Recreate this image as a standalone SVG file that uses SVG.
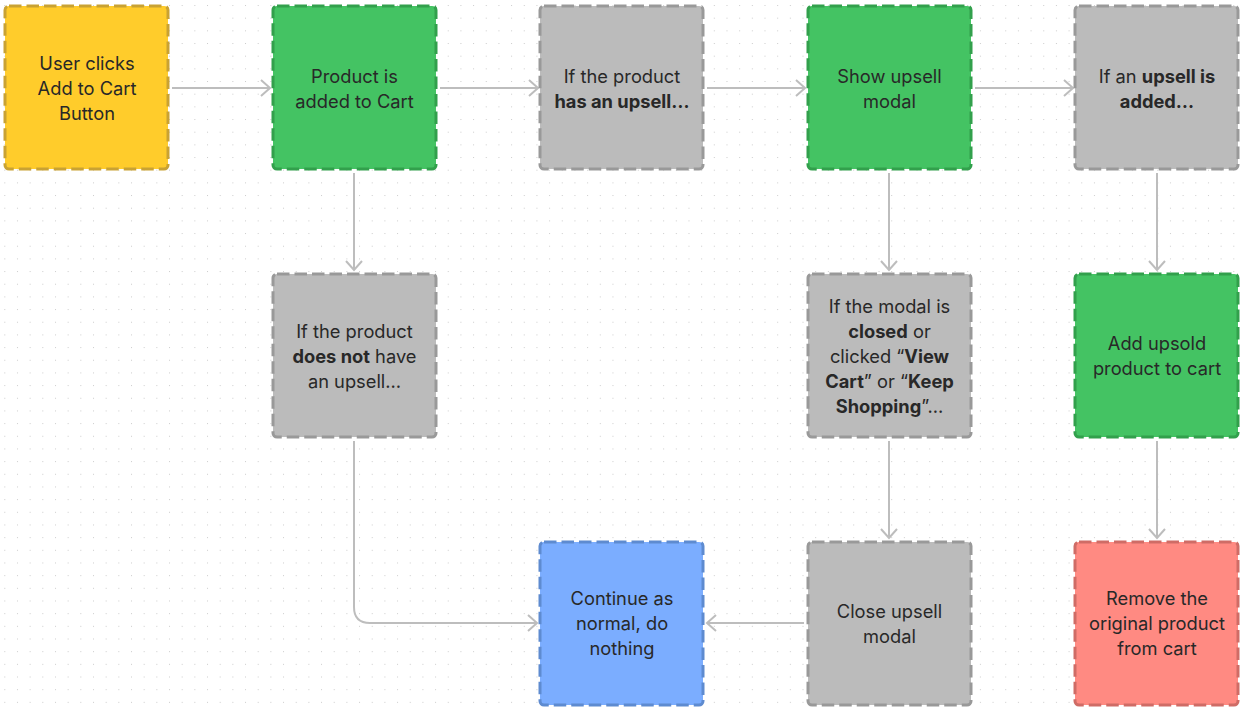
<svg xmlns="http://www.w3.org/2000/svg" width="1244" height="711" viewBox="0 0 1244 711">
<defs>
<pattern id="dots" x="4.3" y="5" width="12.67" height="12.67" patternUnits="userSpaceOnUse">
<rect x="0" y="0" width="1" height="1" fill="#cccccc"/>
</pattern>
<marker id="arr" viewBox="0 0 12 20" refX="10" refY="10" markerWidth="12" markerHeight="20" markerUnits="userSpaceOnUse" orient="auto">
<path d="M1,2 L10,10 L1,18" fill="none" stroke="#bdbdbd" stroke-width="2"/>
</marker>
<style>
text{font-family:Inter,"Noto Sans","Liberation Sans",sans-serif;font-size:18.3px;fill:#282828;text-anchor:middle}
.b{font-weight:700}
.node rect{stroke-width:3;stroke-dasharray:12.5 5}
.y{fill:#FFCC2B;stroke:#C9A233}
.g{fill:#44C363;stroke:#32A04C}
.k{fill:#BBBBBB;stroke:#999999}
.bl{fill:#7BADFF;stroke:#5E8BD0}
.r{fill:#FF8A82;stroke:#CF6C66}
#connectors path{fill:none;stroke:#bdbdbd;stroke-width:2;marker-end:url(#arr)}
</style>
</defs>
<rect width="1244" height="711" fill="#ffffff"/>
<rect width="1244" height="711" fill="url(#dots)"/>

<g id="connectors">
<path d="M172,88 H270"/>
<path d="M440,88 H538"/>
<path d="M707,88 H805"/>
<path d="M975,88 H1073"/>
<path d="M354,173 V270"/>
<path d="M889,173 V270"/>
<path d="M1157,173 V270"/>
<path d="M889,441 V538"/>
<path d="M1157,441 V538"/>
<path d="M804,623 H707"/>
<path d="M354,441 V607 Q354,623 370,623 H537"/>
</g>

<g id="n1" class="node"><rect class="y" x="5" y="6" width="163" height="163" rx="4"/>
<text x="87" y="70">User clicks</text><text x="87" y="95">Add to Cart</text><text x="87" y="120">Button</text></g>

<g id="n2" class="node"><rect class="g" x="273" y="6" width="163" height="163" rx="4"/>
<text x="354.5" y="83">Product is</text><text x="354.5" y="108">added to Cart</text></g>

<g id="n3" class="node"><rect class="k" x="540" y="6" width="163" height="163" rx="4"/>
<text x="622" y="83">If the product</text><text x="622" y="108" class="b">has an upsell…</text></g>

<g id="n4" class="node"><rect class="g" x="808" y="6" width="163" height="163" rx="4"/>
<text x="889.5" y="83">Show upsell</text><text x="889.5" y="108">modal</text></g>

<g id="n5" class="node"><rect class="k" x="1075" y="6" width="163" height="163" rx="4"/>
<text x="1157" y="83">If an <tspan class="b">upsell is</tspan></text><text x="1157" y="108" class="b">added…</text></g>

<g id="n6" class="node"><rect class="k" x="273" y="274" width="163" height="163" rx="4"/>
<text x="354.5" y="337.5">If the product</text><text x="354.5" y="362.5"><tspan class="b">does not</tspan> have</text><text x="354.5" y="387.5">an upsell…</text></g>

<g id="n7" class="node"><rect class="k" x="808" y="274" width="163" height="163" rx="4"/>
<text x="889.5" y="312.5">If the modal is</text>
<text x="889.5" y="337.5"><tspan class="b">closed</tspan> or</text>
<text x="889.5" y="362.5">clicked “<tspan class="b">View</tspan></text>
<text x="889.5" y="387.5"><tspan class="b">Cart</tspan>” or “<tspan class="b">Keep</tspan></text>
<text x="889.5" y="412.5"><tspan class="b">Shopping</tspan>”…</text></g>

<g id="n8" class="node"><rect class="g" x="1075" y="274" width="163" height="163" rx="4"/>
<text x="1157" y="350">Add upsold</text><text x="1157" y="375">product to cart</text></g>

<g id="n9" class="node"><rect class="bl" x="540" y="542" width="163" height="163" rx="4"/>
<text x="622" y="605">Continue as</text><text x="622" y="630">normal, do</text><text x="622" y="655">nothing</text></g>

<g id="n10" class="node"><rect class="k" x="808" y="542" width="163" height="163" rx="4"/>
<text x="889.5" y="618">Close upsell</text><text x="889.5" y="643">modal</text></g>

<g id="n11" class="node"><rect class="r" x="1075" y="542" width="163" height="163" rx="4"/>
<text x="1157" y="605">Remove the</text><text x="1157" y="630">original product</text><text x="1157" y="655">from cart</text></g>
</svg>
